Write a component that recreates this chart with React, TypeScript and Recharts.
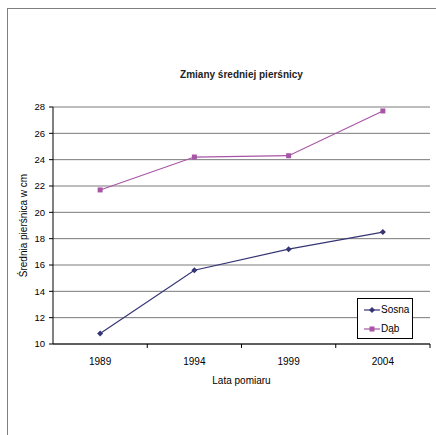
import React from 'react';
import { LineChart, Line, XAxis, YAxis, CartesianGrid, Legend } from 'recharts';

const years = ['1989', '1994', '1999', '2004'];
const sosna = [10.8, 15.6, 17.2, 18.5];
const dab = [21.7, 24.2, 24.3, 27.7];
const yTicks = [10, 12, 14, 16, 18, 20, 22, 24, 26, 28];

const SOSNA_COLOR = '#353575';
const DAB_COLOR = '#a855a6';
const FONT = '"Liberation Sans", Arial, sans-serif';

const data = years.map((year, i) => ({ year, Sosna: sosna[i], Dab: dab[i] }));

const Diamond = (props: any) => {
  const { cx, cy } = props;
  if (cx == null || cy == null) return null;
  const r = 3;
  return <path d={`M${cx},${cy - r}L${cx + r},${cy}L${cx},${cy + r}L${cx - r},${cy}Z`} fill={SOSNA_COLOR} />;
};

const Square = (props: any) => {
  const { cx, cy } = props;
  if (cx == null || cy == null) return null;
  const s = 5;
  return <rect x={cx - s / 2} y={cy - s / 2} width={s} height={s} fill={DAB_COLOR} />;
};

// Category label centred in its band, tick mark at the band's right edge
const XTick = (props: any) => {
  const { x, y, payload, width, visibleTicksCount } = props;
  let half = payload && payload.offset ? payload.offset : 0;
  if (!half && width && visibleTicksCount) half = Number(width) / visibleTicksCount / 2;
  return (
    <g>
      <line x1={x + half} x2={x + half} y1={y} y2={y + 4} stroke="#000" />
      <text x={x} y={y + 21} textAnchor="middle" fill="#000" style={{ fontSize: '10px', fontFamily: FONT }}>
        {payload.value}
      </text>
    </g>
  );
};

const LegendBox = () => {
  const items = [
    { name: 'Sosna', color: SOSNA_COLOR, shape: 'diamond' },
    { name: 'Dąb', color: DAB_COLOR, shape: 'square' },
  ];
  return (
    <div
      style={{
        width: 56,
        height: 41,
        border: '1px solid #000',
        background: '#fff',
        boxSizing: 'border-box',
        fontFamily: FONT,
        fontSize: 10,
        paddingTop: 1,
      }}
    >
      {items.map((it) => (
        <div key={it.name} style={{ display: 'flex', alignItems: 'center', height: 19 }}>
          <svg width={20} height={10} style={{ marginLeft: 3 }}>
            <line x1={3} x2={19} y1={5} y2={5} stroke={it.color} strokeWidth={1.2} />
            {it.shape === 'diamond' ? (
              <path d="M11,2L14,5L11,8L8,5Z" fill={it.color} />
            ) : (
              <rect x={8.5} y={2.5} width={5} height={5} fill={it.color} />
            )}
          </svg>
          <span style={{ color: '#000' }}>{it.name}</span>
        </div>
      ))}
    </div>
  );
};

export default function App() {
  return (
    <div style={{ position: 'absolute', left: 0, top: 0, width: 436, height: 435, background: '#fff' }}>
      <div
        style={{
          position: 'absolute',
          left: 7,
          top: 8,
          width: 440,
          height: 440,
          border: '1px solid #7f7f7f',
        }}
      />
      <div
        style={{
          position: 'absolute',
          left: 53,
          width: 377,
          top: 69,
          textAlign: 'center',
          fontFamily: FONT,
          fontWeight: 'bold',
          fontSize: 10,
          color: '#222',
        }}
      >
        Zmiany średniej pierśnicy
      </div>
      <LineChart
        width={436}
        height={435}
        data={data}
        margin={{ top: 107, right: 6, bottom: 61, left: 23 }}
        style={{ position: 'absolute', left: 0, top: 0 }}
      >
        <CartesianGrid vertical={false} stroke="#7a7a7a" />
        <XAxis
          dataKey="year"
          scale="band"
          height={30}
          axisLine={{ stroke: '#000' }}
          tickLine={false}
          tickSize={0}
          tickMargin={0}
          tick={<XTick />}
          interval={0}
          label={(p: any) => {
            const vb = p.viewBox || { x: 53, y: 344, width: 377, height: 30 };
            return (
              <text x={vb.x + vb.width / 2} y={384} textAnchor="middle" fontSize={10} fontFamily={FONT} fill="#000">
                Lata pomiaru
              </text>
            );
          }}
        />
        <YAxis
          width={30}
          domain={[10, 28]}
          ticks={yTicks}
          interval={0}
          axisLine={{ stroke: '#000' }}
          tickLine={{ stroke: '#000' }}
          tickSize={4}
          tickMargin={4}
          tick={{ fontSize: 9.5, fill: '#000', fontFamily: FONT }}
          label={() => (
            <text
              x={27}
              y={225.5}
              transform="rotate(-90, 27, 225.5)"
              textAnchor="middle"
              fontSize={10}
              fontFamily={FONT}
              fill="#000"
            >
              Średnia pierśnica w cm
            </text>
          )}
        />
        <YAxis
          yAxisId="frame"
          orientation="right"
          width={0}
          domain={[10, 28]}
          tick={false}
          tickLine={false}
          axisLine={{ stroke: '#7a7a7a' }}
        />
        <Legend
          content={<LegendBox />}
          layout="horizontal"
          verticalAlign="middle"
          align="center"
          wrapperStyle={{ position: 'absolute', left: 357, top: 298, width: 56, height: 41 }}
        />
        <Line
          dataKey="Sosna"
          stroke={SOSNA_COLOR}
          strokeWidth={1.2}
          dot={<Diamond />}
          activeDot={false}
          isAnimationActive={false}
        />
        <Line
          dataKey="Dab"
          name="Dąb"
          stroke={DAB_COLOR}
          strokeWidth={1.2}
          dot={<Square />}
          activeDot={false}
          isAnimationActive={false}
        />
      </LineChart>
    </div>
  );
}
